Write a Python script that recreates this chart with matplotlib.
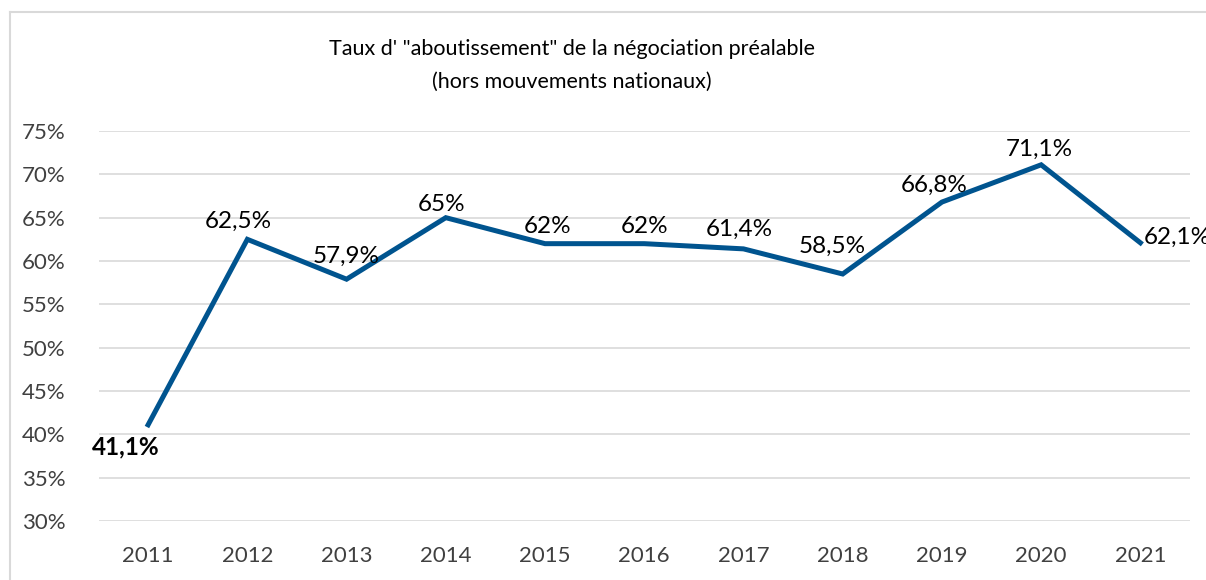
import matplotlib.pyplot as plt
from matplotlib.lines import Line2D
from matplotlib.ticker import MultipleLocator, FuncFormatter

plt.rcParams['font.family'] = ['Lato', 'DejaVu Sans']

annees = ['2011', '2012', '2013', '2014', '2015', '2016', '2017', '2018', '2019', '2020', '2021']
taux = [41.1, 62.5, 57.9, 65.0, 62.0, 62.0, 61.4, 58.5, 66.8, 71.1, 62.1]
etiquettes = ['41,1%', '62,5%', '57,9%', '65%', '62%', '62%', '61,4%', '58,5%', '66,8%', '71,1%', '62,1%']

# décalage des étiquettes (pixels) par rapport au point
decalages = [(-22, -22), (-9, 18), (0, 23), (-4, 13), (3, 17), (0, 17),
             (-4, 20), (-10, 28), (-8, 17), (-2, 15), (3, 5)]

fig = plt.figure(figsize=(12.06, 5.8), dpi=100)
ax = fig.add_axes([98.5 / 1206, 59 / 580, (1190 - 98.5) / 1206, 390 / 580])

x = list(range(len(annees)))
ax.plot(x, taux, color='#00548F', lw=3.6, solid_joinstyle='miter', zorder=3)

for i, (v, txt) in enumerate(zip(taux, etiquettes)):
    dx, dy = decalages[i]
    ha = 'left' if i == len(taux) - 1 else 'center'
    ax.annotate(txt, (i, v), xytext=(dx, dy), textcoords='offset pixels',
                ha=ha, va='center', fontsize=17.5, color='black',
                fontweight='bold' if i == 0 else 'normal',
                annotation_clip=False)

ax.set_xlim(-0.5, len(annees) - 0.5)
ax.set_ylim(30, 75)
ax.set_xticks(x)
ax.set_xticklabels(annees)
ax.yaxis.set_major_locator(MultipleLocator(5))
ax.yaxis.set_major_formatter(FuncFormatter(lambda v, p: f'{v:.0f}%'))
ax.tick_params(axis='both', length=0, labelsize=16, labelcolor='#404040')
ax.tick_params(axis='x', pad=18)
ax.tick_params(axis='y', pad=24)
ax.grid(axis='y', color='#d9d9d9', lw=1.2)
ax.set_axisbelow(True)
for s in ax.spines.values():
    s.set_visible(False)

fig.text(572 / 1206, 1 - 49 / 580, 'Taux d\' "aboutissement" de la négociation préalable',
         ha='center', va='center', fontsize=15.5)
fig.text(572 / 1206, 1 - 82 / 580, '(hors mouvements nationaux)',
         ha='center', va='center', fontsize=15.5)

# cadre du graphique
fig.add_artist(Line2D([10 / 1206, 10 / 1206], [0, 1 - 12 / 580], color='#d9d9d9', lw=1.5,
                      transform=fig.transFigure))
fig.add_artist(Line2D([10 / 1206, 1], [1 - 12 / 580, 1 - 12 / 580], color='#d9d9d9', lw=1.5,
                      transform=fig.transFigure))

fig.savefig('out.png', dpi=100)
